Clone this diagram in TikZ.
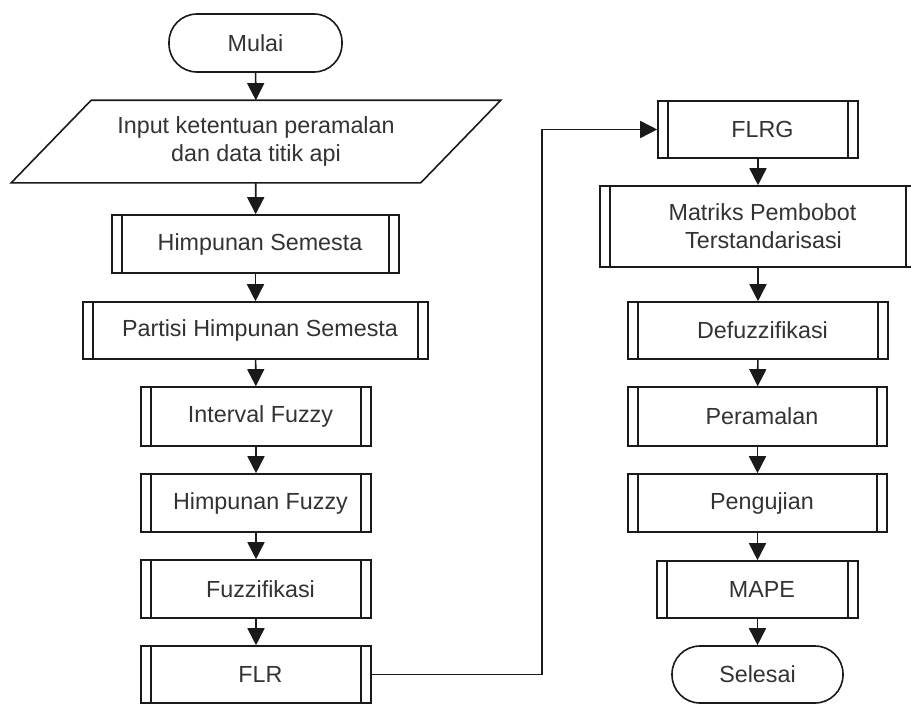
\documentclass[tikz,border=0pt]{standalone}
\usepackage{fontspec}
\setmainfont{Liberation Sans}
\usetikzlibrary{arrows.meta,calc}
\definecolor{txt}{HTML}{333333}
\definecolor{ln}{HTML}{1A1A1A}
\begin{document}
\begin{tikzpicture}[x=1pt,y=1pt,
  base/.style={font=\fontsize{23.3}{28}\selectfont, text=txt, align=center, line width=1.6pt, draw=ln, inner sep=0pt},
  term/.style={base, draw, rounded corners=28pt},
  subproc/.style={base, draw, execute at begin node={\hspace*{9pt}}, path picture={
      \draw[ln, line width=1.6pt] ([xshift=10pt]path picture bounding box.north west) -- ([xshift=10pt]path picture bounding box.south west);
      \draw[ln, line width=1.6pt] ([xshift=-10pt]path picture bounding box.north east) -- ([xshift=-10pt]path picture bounding box.south east);}},
  arr/.style={draw=ln, line width=1.6pt, -{Triangle[width=17pt,length=17pt]}}
]
\useasboundingbox[fill=white] (0,0) rectangle (911,-704);

% left column
\node[term, minimum width=173, minimum height=58] (mulai) at (255.5,-43) {Mulai};
\node[base, draw=none, minimum width=408, minimum height=81] (inp) at (256,-141.5) {Input ketentuan peramalan\\dan data titik api};
\draw[ln, line width=1.6pt, line join=miter] ([xshift=-40pt]inp.south west) -- ([xshift=40pt]inp.north west) -- ([xshift=40pt]inp.north east) -- ([xshift=-40pt]inp.south east) -- cycle;
\node[subproc, minimum width=287, minimum height=58] (hs) at (255.5,-244) {Himpunan Semesta};
\node[subproc, minimum width=345, minimum height=57] (partisi) at (255.5,-330.5) {Partisi Himpunan Semesta};
\node[subproc, minimum width=230, minimum height=59] (interval) at (256,-416.5) {Interval Fuzzy};
\node[subproc, minimum width=230, minimum height=58] (hf) at (256,-503) {Himpunan Fuzzy};
\node[subproc, minimum width=230, minimum height=58] (fuzz) at (256,-589) {Fuzzifikasi};
\node[subproc, minimum width=230, minimum height=57] (flr) at (256,-674.5) {FLR};

% right column
\node[subproc, minimum width=200, minimum height=57] (flrg) at (758,-129.5) {FLRG};
\node[subproc, minimum width=316, minimum height=81] (matriks) at (758,-226.5) {Matriks Pembobot\\\hspace*{2pt}Terstandarisasi};
\node[subproc, minimum width=260, minimum height=57] (defuzz) at (758,-330.5) {Defuzzifikasi};
\node[subproc, minimum width=259, minimum height=59] (peramalan) at (757.5,-416.5) {Peramalan};
\node[subproc, minimum width=259, minimum height=58] (pengujian) at (757.5,-503) {Pengujian};
\node[subproc, minimum width=201, minimum height=57] (mape) at (757.5,-589.5) {MAPE};
\node[term, minimum width=171, minimum height=57] (selesai) at (757.5,-674.5) {Selesai};

% connectors
\draw[arr] (mulai) -- (inp);
\draw[arr] (inp) -- (hs);
\draw[arr] (hs) -- (partisi);
\draw[arr] (partisi) -- (interval);
\draw[arr] (interval) -- (hf);
\draw[arr] (hf) -- (fuzz);
\draw[arr] (fuzz) -- (flr);
\coordinate (turn) at (542,-400);
\draw[arr] (flr.east) -| (turn) |- (flrg.west);
\draw[arr] (flrg) -- (matriks);
\draw[arr] (matriks) -- (defuzz);
\draw[arr] (defuzz) -- (peramalan);
\draw[arr] (peramalan) -- (pengujian);
\draw[arr] (pengujian) -- (mape);
\draw[arr] (mape) -- (selesai);
\end{tikzpicture}
\end{document}
